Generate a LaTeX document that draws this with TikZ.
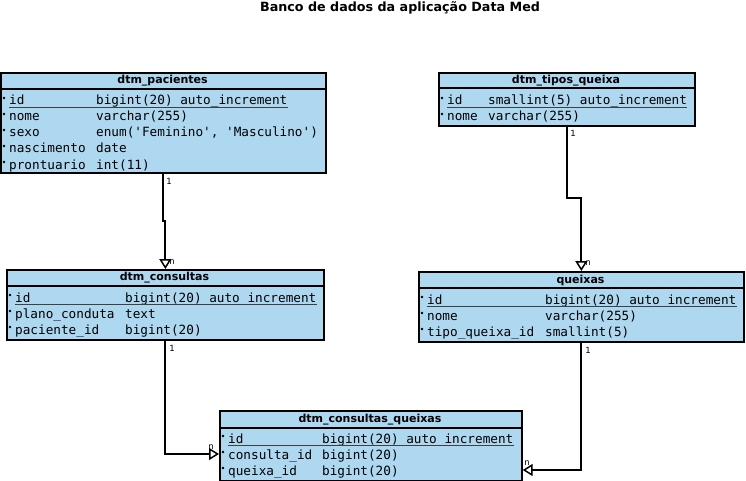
\documentclass[tikz,border=0pt]{standalone}
\usepackage{fontspec}
\setmainfont{DejaVu Sans}
\setmonofont{DejaVu Sans Mono}
\usetikzlibrary{arrows.meta,calc}
\definecolor{tblfill}{RGB}{173,216,240}
\tikzset{
  tbl/.style={draw=black, line width=1.7pt, fill=tblfill, rectangle, inner sep=0pt, anchor=north west},
  sepline/.style={line width=1.7pt},
  ttl/.style={font=\fontsize{11}{13}\selectfont\bfseries, inner sep=0pt},
  fld/.style={font=\fontsize{12.7}{14}\selectfont\ttfamily, inner sep=0pt, anchor=base west},
  uline/.style={line width=0.8pt, draw=black!75},
  dot/.style={fill=black},
  conn/.style={line width=1.8pt, -{Triangle[open, length=10pt, width=12pt, line width=1.5pt]}},
  card/.style={font=\fontsize{8.5}{10}\selectfont, inner sep=0pt},
  titlefont/.style={font=\fontsize{12.7}{15}\selectfont\bfseries, inner sep=0pt}
}
\begin{document}
\begin{tikzpicture}[x=1pt,y=-1pt]
\useasboundingbox (0,0) rectangle (746,481);

\node[titlefont] (title) at (400,8) {Banco de dados da aplicação Data Med};

% dtm_pacientes
\node[tbl, minimum width=325pt, minimum height=100pt] (pac) at (0,72) {};
\draw[sepline] (pac.west |- 0,89) -- (pac.east |- 0,89);
\node[ttl] (pact) at (162.5,81) {dtm\_pacientes};
\fill[dot] (4,98) circle (1.3pt);
\node[fld] (pac1n) at (9,105) {id};
\node[fld] (pac1t) at (96,105) {bigint(20) auto\_increment};
\draw[uline] ([yshift=-2.5pt]pac1n.base west) -- ([yshift=-2.5pt]pac1t.base east);
\fill[dot] (4,114) circle (1.3pt);
\node[fld] (pac2n) at (9,121) {nome};
\node[fld] (pac2t) at (96,121) {varchar(255)};
\fill[dot] (4,130) circle (1.3pt);
\node[fld] (pac3n) at (9,137) {sexo};
\node[fld] (pac3t) at (96,137) {enum('Feminino', 'Masculino')};
\fill[dot] (4,146) circle (1.3pt);
\node[fld] (pac4n) at (9,153) {nascimento};
\node[fld] (pac4t) at (96,153) {date};
\fill[dot] (4,162) circle (1.3pt);
\node[fld] (pac5n) at (9,169) {prontuario};
\node[fld] (pac5t) at (96,169) {int(11)};

% dtm_tipos_queixa
\node[tbl, minimum width=256pt, minimum height=53pt] (tip) at (438,72) {};
\draw[sepline] (tip.west |- 0,88) -- (tip.east |- 0,88);
\node[ttl] (tipt) at (566,81) {dtm\_tipos\_queixa};
\fill[dot] (442,98) circle (1.3pt);
\node[fld] (tip1n) at (447,105) {id};
\node[fld] (tip1t) at (488,105) {smallint(5) auto\_increment};
\draw[uline] ([yshift=-2.5pt]tip1n.base west) -- ([yshift=-2.5pt]tip1t.base east);
\fill[dot] (442,114) circle (1.3pt);
\node[fld] (tip2n) at (447,121) {nome};
\node[fld] (tip2t) at (488,121) {varchar(255)};

% dtm_consultas
\node[tbl, minimum width=317pt, minimum height=70pt] (con) at (6,269) {};
\draw[sepline] (con.west |- 0,286) -- (con.east |- 0,286);
\node[ttl] (cont) at (164.5,278) {dtm\_consultas};
\fill[dot] (10,295) circle (1.3pt);
\node[fld] (con1n) at (15,302) {id};
\node[fld] (con1t) at (125,302) {bigint(20) auto\_increment};
\draw[uline] ([yshift=-2.5pt]con1n.base west) -- ([yshift=-2.5pt]con1t.base east);
\fill[dot] (10,311) circle (1.3pt);
\node[fld] (con2n) at (15,318) {plano\_conduta};
\node[fld] (con2t) at (125,318) {text};
\fill[dot] (10,327) circle (1.3pt);
\node[fld] (con3n) at (15,334) {paciente\_id};
\node[fld] (con3t) at (125,334) {bigint(20)};

% queixas
\node[tbl, minimum width=325pt, minimum height=70pt] (que) at (418,271) {};
\draw[sepline] (que.west |- 0,288) -- (que.east |- 0,288);
\node[ttl] (quet) at (580.5,280) {queixas};
\fill[dot] (422,297) circle (1.3pt);
\node[fld] (que1n) at (427,304) {id};
\node[fld] (que1t) at (545,304) {bigint(20) auto\_increment};
\draw[uline] ([yshift=-2.5pt]que1n.base west) -- ([yshift=-2.5pt]que1t.base east);
\fill[dot] (422,313) circle (1.3pt);
\node[fld] (que2n) at (427,320) {nome};
\node[fld] (que2t) at (545,320) {varchar(255)};
\fill[dot] (422,329) circle (1.3pt);
\node[fld] (que3n) at (427,336) {tipo\_queixa\_id};
\node[fld] (que3t) at (545,336) {smallint(5)};

% dtm_consultas_queixas
\node[tbl, minimum width=302pt, minimum height=70pt] (cq) at (219,410) {};
\draw[sepline] (cq.west |- 0,428) -- (cq.east |- 0,428);
\node[ttl] (cqt) at (370,420) {dtm\_consultas\_queixas};
\fill[dot] (223,436) circle (1.3pt);
\node[fld] (cq1n) at (228,443) {id};
\node[fld] (cq1t) at (322,443) {bigint(20) auto\_increment};
\draw[uline] ([yshift=-2.5pt]cq1n.base west) -- ([yshift=-2.5pt]cq1t.base east);
\fill[dot] (223,452) circle (1.3pt);
\node[fld] (cq2n) at (228,459) {consulta\_id};
\node[fld] (cq2t) at (322,459) {bigint(20)};
\fill[dot] (223,468) circle (1.3pt);
\node[fld] (cq3n) at (228,475) {queixa\_id};
\node[fld] (cq3t) at (322,475) {bigint(20)};

% connectors
\draw[conn] (pac.south) -- (pac.south |- 0,221) -| (con.north);
\draw[conn] (tip.south) -- (tip.south |- 0,198) -| (que.north);
\draw[conn] (con.south) |- (cq.west |- 0,454);
\draw[conn] (que.south) |- (cq.east |- 0,470);

% cardinalities
\node[card] (c1a) at (169,181) {1};
\node[card] (c1b) at (172,262) {n};
\node[card] (c2a) at (573,133) {1};
\node[card] (c2b) at (588,263) {n};
\node[card] (c3a) at (172,348) {1};
\node[card] (c3b) at (211,447) {n};
\node[card] (c4a) at (588,350) {1};
\node[card] (c4b) at (527,463) {n};
\end{tikzpicture}
\end{document}
